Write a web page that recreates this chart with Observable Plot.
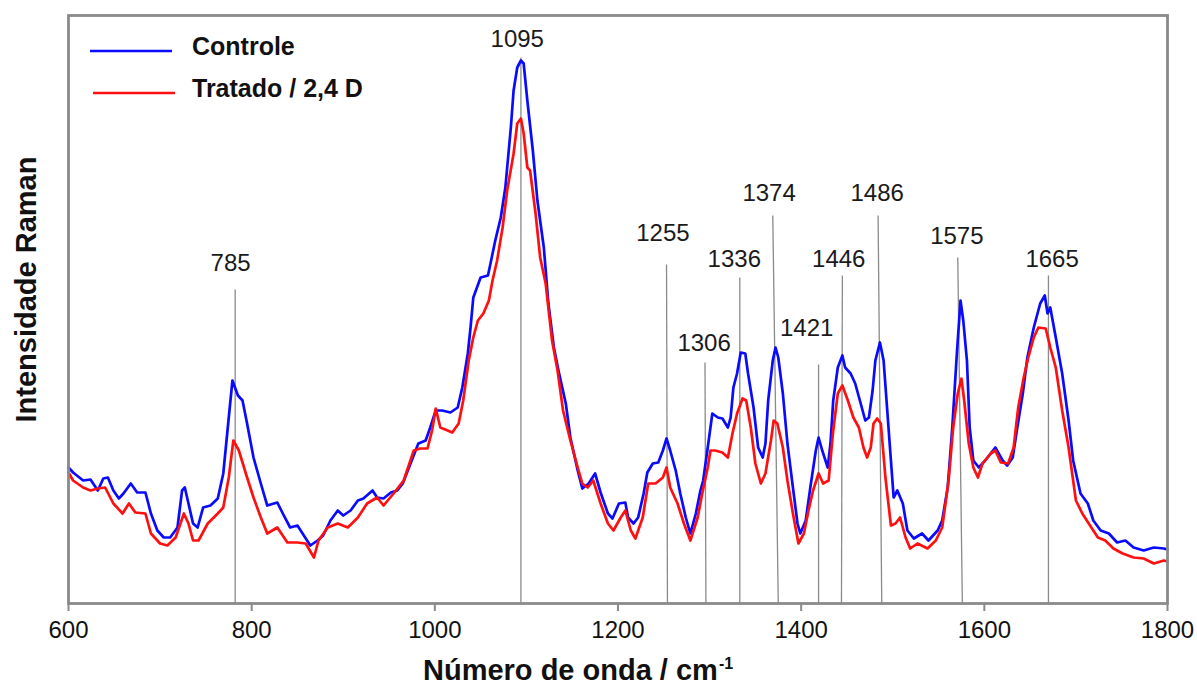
<!DOCTYPE html>
<html><head><meta charset="utf-8">
<script src="https://cdn.jsdelivr.net/npm/d3@7"></script>
<script src="https://cdn.jsdelivr.net/npm/@observablehq/plot@0.6"></script>
<style>
body{margin:0;background:#fff;}
#chart svg{display:block;}
g[aria-label="x-axis tick"]{stroke:#8a8a8a;stroke-width:2px;}
</style></head><body><div id="chart"></div>
<script>
// Wavenumber (cm-1) and Raman intensity (a.u.) — Controle
const ctrlWn = [
 600,605,616,624,632,638,643,649,655,660,
 668,675,684,690,697,704,711,719,724,727,
 731,736,741,747,755,763,769,775,779,785,
 790,795,802,810,817,828,834,842,850,857,
 864,872,878,886,894,900,908,916,922,932,
 937,944,952,959,965,976,982,990,995,1001,
 1008,1017,1025,1030,1036,1039,1042,1050,1058,1061,
 1066,1072,1077,1083,1086,1090,1094,1097,1101,1107,
 1112,1119,1124,1130,1135,1143,1148,1156,1161,1168,
 1175,1181,1189,1194,1201,1208,1211,1217,1222,1228,
 1232,1238,1244,1249,1253,1257,1263,1268,1274,1279,
 1285,1290,1293,1298,1303,1309,1314,1320,1323,1326,
 1330,1334,1339,1342,1348,1353,1358,1361,1364,1369,
 1372,1375,1380,1385,1391,1396,1399,1405,1410,1416,
 1419,1423,1429,1432,1435,1440,1445,1448,1454,1459,
 1465,1470,1474,1478,1481,1486,1490,1494,1498,1501,
 1505,1511,1516,1523,1532,1539,1549,1554,1560,1565,
 1570,1574,1577,1581,1584,1588,1594,1601,1612,1620,
 1625,1631,1636,1642,1647,1654,1661,1666,1669,1672,
 1678,1685,1692,1697,1705,1713,1719,1727,1736,1745,
 1754,1763,1774,1785,1796,1800];
const ctrlI = [
 136,131,123,124,113,125,126,113,105,110,
 120,111,111,90,73,66,66,76,113,116,
 100,80,76,96,98,105,130,186,223,208,
 203,180,146,120,98,101,90,76,78,68,
 58,63,68,83,93,88,93,103,105,113,
 106,105,111,113,120,146,160,163,176,193,
 193,191,196,216,250,276,306,326,328,341,
 363,386,416,476,513,536,543,540,503,453,
 403,356,300,256,233,200,166,133,115,120,
 130,111,90,85,100,101,86,80,86,110,
 131,140,141,153,165,153,133,110,86,70,
 90,113,123,156,190,186,185,176,186,216,
 230,251,250,230,196,156,146,160,203,243,
 256,246,210,160,116,80,70,83,116,153,
 166,153,136,160,203,236,248,236,230,220,
 200,183,186,213,243,261,243,193,143,106,
 113,100,73,65,70,63,73,83,116,176,
 250,303,283,243,176,143,136,143,156,143,
 138,146,176,210,246,276,300,308,290,296,
 266,230,183,143,110,100,83,73,70,61,
 63,56,53,56,55,54];

// Tratado / 2,4 D
const tratWn = [
 600,605,616,624,632,640,649,659,666,673,
 684,690,700,708,717,726,731,736,742,752,
 763,769,775,780,786,795,802,810,817,828,
 839,850,859,868,873,883,894,905,916,926,
 937,944,955,966,977,984,992,997,1001,1006,
 1014,1019,1026,1031,1037,1042,1047,1053,1059,1063,
 1068,1074,1079,1086,1090,1094,1097,1101,1104,1110,
 1115,1121,1128,1134,1140,1148,1156,1161,1167,1173,
 1181,1189,1195,1203,1208,1214,1219,1227,1233,1241,
 1249,1253,1257,1265,1272,1279,1287,1292,1298,1301,
 1306,1314,1320,1325,1330,1336,1340,1345,1350,1356,
 1361,1367,1370,1374,1380,1385,1391,1397,1403,1408,
 1413,1419,1424,1430,1435,1440,1445,1451,1457,1463,
 1468,1472,1476,1479,1483,1487,1492,1498,1503,1508,
 1514,1519,1527,1538,1547,1554,1561,1566,1571,1575,
 1578,1583,1588,1593,1598,1607,1612,1618,1626,1632,
 1637,1643,1648,1654,1659,1667,1672,1678,1685,1692,
 1700,1707,1714,1724,1732,1741,1751,1763,1774,1785,
 1796,1800];
const tratI = [
 131,123,116,113,115,116,100,90,100,91,
 90,70,60,58,66,90,80,63,63,80,
 90,96,126,163,153,126,106,86,70,76,
 61,61,60,46,63,76,80,76,86,100,
 106,98,110,123,153,155,155,173,195,176,
 173,171,180,203,243,266,283,290,303,323,
 343,376,413,450,480,485,470,436,433,390,
 346,320,263,233,193,163,136,120,116,123,
 100,80,73,86,93,73,65,86,120,120,
 126,136,116,100,80,63,86,110,136,153,
 153,151,146,170,190,205,203,176,140,120,
 130,163,183,180,156,123,90,60,70,93,
 113,130,120,123,173,210,218,203,186,176,
 156,146,156,180,185,180,126,78,80,86,
 66,55,60,55,63,76,123,176,210,225,
 203,160,136,126,140,150,153,141,140,156,
 196,226,246,266,276,275,256,236,193,156,
 103,90,80,66,63,55,50,46,45,40,
 43,42];

// Peak annotations
const peakLabels  = ["785","1095","1255","1306","1336","1374","1421","1446","1486","1575","1665"];
const labelX      = [777,1090,1249,1294,1327,1365,1406,1441,1483,1570,1674];
const labelY      = [340,564,370,260,344,410,275,344,410,367,344];
const lineBottomX = [782,1094,1254,1296,1333,1375,1419,1444,1488,1576,1670];
const lineTopX    = [782,1094,1253,1295,1333,1369,1419,1445,1484,1571,1670];
const lineTopY    = [314,546,339,241,326,388,239,328,388,346,328];

const xTicks = [600,800,1000,1200,1400,1600,1800];
const seriesNames  = ["Controle","Tratado / 2,4 D"];
const seriesColors = ["#0a0aff","#ff1010"];
const xTitle = "Número de onda / cm";
const xTitleSup = "-1";
const yTitle = "Intensidade Raman";

const ctrl = ctrlWn.map((x,i)=>({x, y: ctrlI[i]}));
const trat = tratWn.map((x,i)=>({x, y: tratI[i]}));
const peaks = peakLabels.map((label,i)=>({label, lx: labelX[i], ly: labelY[i], xb: lineBottomX[i], xt: lineTopX[i], top: lineTopY[i]}));

const FONT = "'Liberation Sans', Arial, Helvetica, sans-serif";

const plot = Plot.plot({
  width: 1197, height: 686,
  marginLeft: 68, marginRight: 30, marginTop: 15, marginBottom: 83,
  style: {fontFamily: FONT, background: "#fff", color: "#111"},
  x: {domain: [600, 1800]},
  y: {domain: [0, 588]},
  marks: [
    Plot.link(peaks, {x1: "xb", y1: 0, x2: "xt", y2: "top", stroke: "#8a8a8a", strokeWidth: 1.3}),
    Plot.line(ctrl, {x: "x", y: "y", stroke: seriesColors[0], strokeWidth: 2.7, strokeLinejoin: "round"}),
    Plot.line(trat, {x: "x", y: "y", stroke: seriesColors[1], strokeWidth: 2.7, strokeLinejoin: "round"}),
    Plot.text(peaks, {x: "lx", y: "ly", text: "label", fontSize: 24, fill: "#1a1a1a"}),
    Plot.frame({stroke: "#8a8a8a", strokeWidth: 2.8}),
    Plot.axisX({ticks: xTicks, tickSize: 8, tickPadding: 9, fontSize: 24, tickFormat: d3.format("d"), label: null}),
    Plot.axisY({ticks: [], label: null}),
    Plot.text([yTitle], {frameAnchor: "left", textAnchor: "middle", rotate: -90, dx: -42, dy: -20, fontSize: 29, fontWeight: "bold", fill: "#111"})
  ]
});

const svg = d3.select(plot);
// x-axis title with superscript
const t = svg.append("text").attr("x", 423).attr("y", 680).attr("text-anchor", "start")
  .attr("font-family", FONT).attr("font-size", 29).attr("font-weight", "bold").attr("fill", "#111");
t.append("tspan").text(xTitle);
t.append("tspan").attr("font-size", 16).attr("dy", -11).attr("dx", 1).text(xTitleSup);

// legend
const legY = [51, 93];
const legTextY = [55, 97];
const leg = svg.append("g").attr("font-family", FONT).attr("font-weight", "bold").attr("font-size", 25)
  .attr("fill", "#111").attr("text-anchor", "start");
seriesNames.forEach((name, i) => {
  leg.append("line").attr("x1", 90 + 3*i).attr("x2", 172 + 3*i).attr("y1", legY[i]).attr("y2", legY[i])
    .attr("stroke", seriesColors[i]).attr("stroke-width", 2.7);
  leg.append("text").attr("x", 192).attr("y", legTextY[i]).text(name);
});

document.getElementById("chart").appendChild(plot);
</script>
</body></html>
